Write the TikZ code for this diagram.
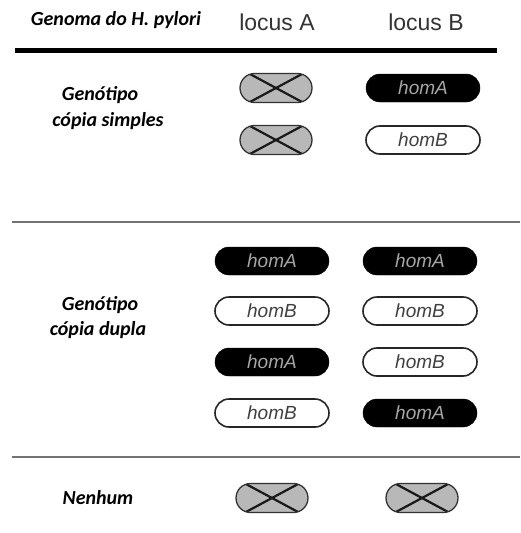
\documentclass[tikz,border=0pt]{standalone}
\usepackage{fontspec}
\setmainfont{Liberation Sans}
\newfontfamily\labfont{Carlito}
\begin{document}
\begin{tikzpicture}[x=1pt,y=-1pt,
  lab/.style={font=\labfont\bfseries\itshape\fontsize{20}{22}\selectfont, text=black},
  locus/.style={font=\fontsize{23}{26}\selectfont, text=black!80},
  pill/.style={rounded corners=14pt, minimum width=114pt, minimum height=28pt, inner sep=0pt,
    font=\itshape\fontsize{19}{20}\selectfont},
  homApill/.style={pill, draw=black, fill=black, text=black!35},
  homBpill/.style={pill, draw=black!85, line width=1.6pt, fill=white, text=black!75},
  xpill/.style={rounded corners=14.5pt, minimum width=72pt, minimum height=29pt, inner sep=0pt,
    draw=black!80, line width=1.3pt, fill=black!28,
    path picture={\draw[black!90, line width=2.2pt]
      ([xshift=9pt]path picture bounding box.north west) -- ([xshift=-9pt]path picture bounding box.south east)
      ([xshift=9pt]path picture bounding box.south west) -- ([xshift=-9pt]path picture bounding box.north east);}},
  sep/.style={draw=black!55, line width=2.5pt}
]
\useasboundingbox (0,0) rectangle (520,533);
% header
\node[lab] (hdr) at (116,20) {Genoma do H. pylori};
\node[locus] (la) at (277,22) {locus A};
\node[locus] (lb) at (426,22) {locus B};
\coordinate (t1) at (15,50);
\coordinate (t2) at (497,50);
\draw[line width=5pt] (t1) -- (t2);
% simple copy
\node[lab] (g1) at (100,95) {Genótipo};
\node[lab] (c1) at (108,121) {cópia simples};
\node[xpill] (s1a) at (276,88) {};
\node[homApill] (s1b) at (423,88) {homA};
\node[xpill] (s2a) at (276,140) {};
\node[homBpill] (s2b) at (423,140) {homB};
% separator
\coordinate (m1) at (12,222);
\coordinate (m2) at (520,222);
\draw[sep] (m1) -- (m2);
% double copy
\node[lab] (g2) at (100,305) {Genótipo};
\node[lab] (c2) at (98,330) {cópia dupla};
\node[homApill] (d1a) at (272,261) {homA};
\node[homApill] (d1b) at (420,261) {homA};
\node[homBpill] (d2a) at (272,311) {homB};
\node[homBpill] (d2b) at (420,311) {homB};
\node[homApill] (d3a) at (272,362) {homA};
\node[homBpill] (d3b) at (420,362) {homB};
\node[homBpill] (d4a) at (272,413) {homB};
\node[homApill] (d4b) at (420,413) {homA};
% separator
\coordinate (n1) at (12,457);
\coordinate (n2) at (520,457);
\draw[sep] (n1) -- (n2);
% none
\node[lab] (nen) at (98,498) {Nenhum};
\node[xpill] (na) at (272,498) {};
\node[xpill] (nb) at (422,498) {};
\end{tikzpicture}
\end{document}
